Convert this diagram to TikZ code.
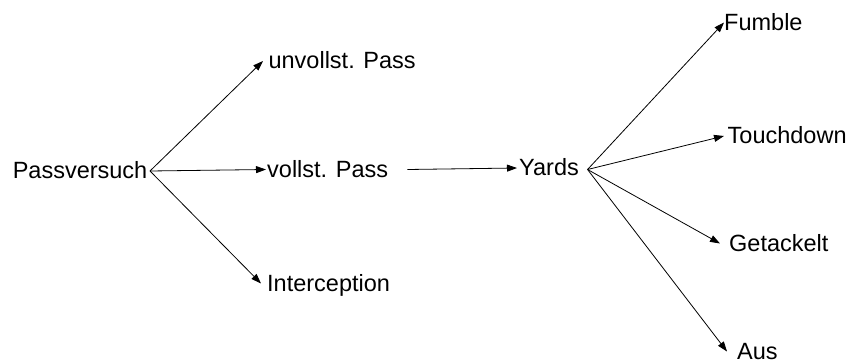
\documentclass[tikz,border=0pt]{standalone}
\usepackage{fontspec}
\setmainfont{Liberation Sans}
\usetikzlibrary{arrows.meta}
\begin{document}
\begin{tikzpicture}[x=1pt,y=-1pt,
  lbl/.style={inner ysep=0pt,text height=19pt,text depth=4pt,font=\fontsize{23.5pt}{28pt}\selectfont},
  arr/.style={line width=0.8pt,-{Triangle[length=10pt,width=7pt]}}]
\useasboundingbox[fill=white] (0,0) rectangle (862,364);
\node[lbl,anchor=east,inner xsep=2.5pt] (pv) at (150,171) {Passversuch};
\node[lbl,anchor=west,inner xsep=5.4pt] (uv) at (263,61) {unvollst. Pass};
\node[lbl,anchor=west,inner xsep=1pt] (vp) at (266,169.5) {vollst. Pass};
\node[lbl,anchor=west,inner xsep=6pt] (ic) at (261,283.5) {Interception};
\node[lbl,anchor=west,inner xsep=2pt] (yd) at (517,168) {Yards};
\node[lbl,anchor=west,inner xsep=0pt] (fu) at (724,22.5) {Fumble};
\node[lbl,anchor=west,inner xsep=3.5pt] (td) at (724,136) {Touchdown};
\node[lbl,anchor=west,inner xsep=9pt] (ge) at (720,243.5) {Getackelt};
\node[lbl,anchor=west,inner xsep=10pt] (au) at (727,351.5) {Aus};
\draw[arr] (pv.east) -- (uv.west);
\draw[arr] (pv.east) -- (vp.west);
\draw[arr] (pv.east) -- (ic.west);
\draw[arr] ([xshift=18pt]vp.east) -- (yd.west);
\draw[arr] ([xshift=6.5pt,yshift=-1.5pt]yd.east) -- (fu.west);
\draw[arr] ([xshift=6.5pt,yshift=-1.5pt]yd.east) -- (td.west);
\draw[arr] ([xshift=6.5pt,yshift=-1.5pt]yd.east) -- (ge.west);
\draw[arr] ([xshift=6.5pt,yshift=-1.5pt]yd.east) -- (au.west);
\end{tikzpicture}
\end{document}
